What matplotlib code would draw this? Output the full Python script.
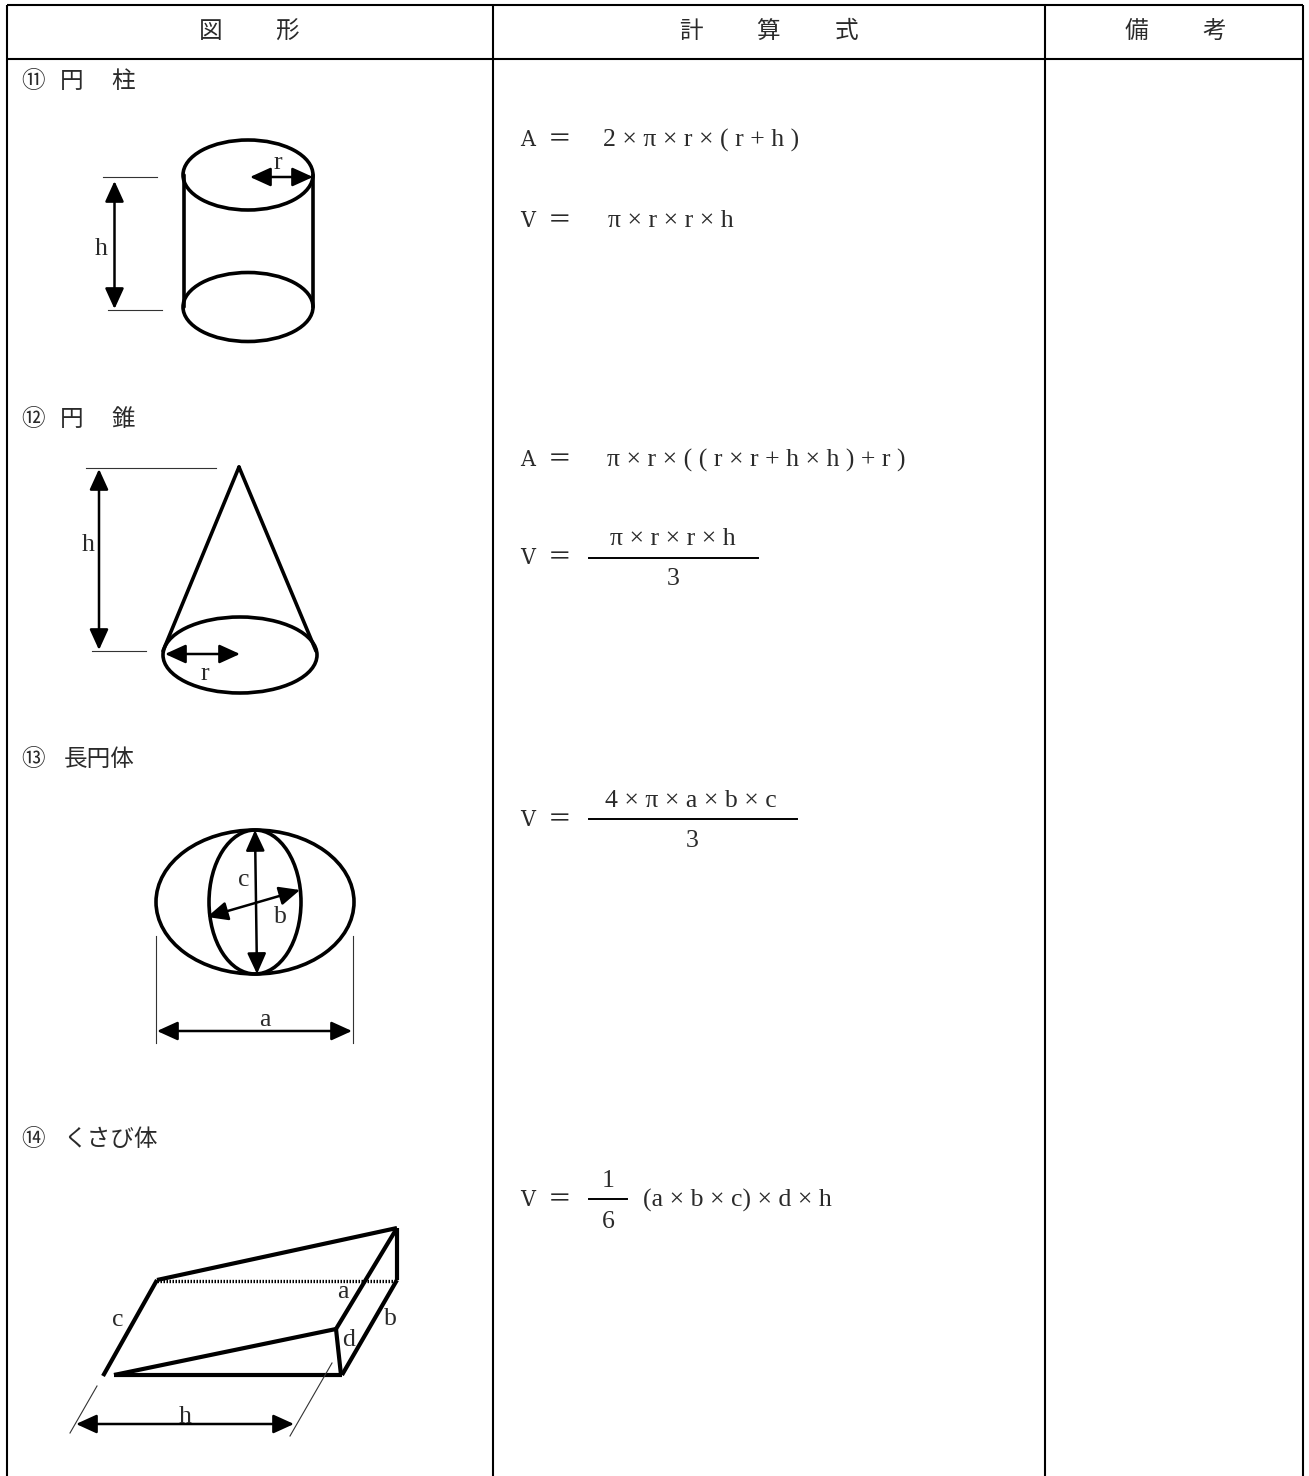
import matplotlib
matplotlib.use("Agg")
import matplotlib.pyplot as plt
from matplotlib.patches import Ellipse, FancyArrowPatch

W, H = 1309, 1476
JP = ["Noto Sans CJK JP", "DejaVu Sans"]
SERIF = ["Liberation Serif", "Noto Sans CJK JP"]
TEXT_COLOR = "#2a2a2a"

# table grid
col_x = [7, 493, 1045, 1303]
top_y = 5
header_y = 59

header_texts = [("図", 211), ("形", 287), ("計", 691), ("算", 768), ("式", 846),
                ("備", 1136), ("考", 1214)]
section_texts = [("⑪", 33, 81), ("円", 72, 81), ("柱", 123, 81),
                 ("⑫", 33, 420), ("円", 72, 420), ("錐", 123, 420),
                 ("⑬", 33, 760), ("長円体", 99, 760),
                 ("⑭", 33, 1140), ("くさび体", 111, 1140)]

# formulas: left symbol, y, expression, x
formula_lhs = [("A", 140), ("V", 221), ("A", 460), ("V", 558), ("V", 820), ("V", 1200)]
formula_exprs = [("2 × π × r × ( r + h )", 603, 140), ("π × r × r × h", 608, 221),
                 ("π × r × ( ( r × r + h × h ) + r )", 607, 460), ("π × r × r × h", 610, 539),
                 ("3", 667, 579), ("4 × π × a × b × c", 605, 801), ("3", 686, 841),
                 ("1", 602, 1181), ("6", 602, 1222), ("(a × b × c) × d × h", 643, 1200)]
fraction_bars = [(589, 758, 558), (589, 797, 819), (589, 627, 1199)]

# shapes
ellipses = [(248, 175, 130, 70), (248, 307, 130, 69),
            (240, 655, 154, 76),
            (255, 902, 198, 144), (255, 902, 92, 144)]
body_lines = [((184, 175), (184, 307)), ((313, 175), (313, 307)),
              ((239, 467), (163, 651)), ((239, 467), (316, 651))]
wedge_lines = [((157, 1280), (397, 1228)), ((157, 1280), (103, 1376)),
               ((114, 1375), (342, 1375)), ((114, 1375), (336, 1329)),
               ((336, 1329), (341, 1375)), ((397, 1228), (336, 1329)),
               ((397, 1280), (342, 1375)), ((397, 1228), (397, 1280))]
thin_lines = [((103, 177), (157, 177)), ((108, 310), (162, 310)),
              ((86, 468), (216, 468)), ((92, 651), (146, 651)),
              ((156, 936), (156, 1043)), ((353, 936), (353, 1043)),
              ((97, 1386), (70, 1433)), ((332, 1363), (290, 1436))]
dotted_lines = [((157, 1281), (397, 1281))]
arrows = [((114.5, 181), (114.5, 309)), ((250, 177), (313, 177)),
          ((99, 469), (99, 650)), ((165, 654), (240, 654)),
          ((255, 830), (257, 974)), ((207, 917), (300, 890)),
          ((157, 1031), (352, 1031)), ((76, 1424), (294, 1424))]
shape_labels = [("r", 278, 163), ("h", 101, 249), ("h", 88, 545), ("r", 205, 674),
                ("c", 244, 880), ("b", 280, 917), ("a", 265, 1020),
                ("c", 118, 1320), ("a", 343, 1292), ("b", 390, 1319),
                ("d", 349, 1340), ("h", 185, 1417)]

fig = plt.figure(figsize=(W / 100, H / 100), dpi=100)
ax = fig.add_axes([0, 0, 1, 1])
ax.set_xlim(0, W)
ax.set_ylim(H, 0)
ax.axis("off")

# table
for x in col_x:
    ax.plot([x, x], [top_y, H], color="black", lw=1.5, solid_capstyle="butt")
for y in [top_y, header_y]:
    ax.plot([col_x[0], col_x[-1]], [y, y], color="black", lw=1.5, solid_capstyle="butt")

for s, x in header_texts:
    ax.text(x, 32, s, family=JP, fontsize=17, ha="center", va="center", color=TEXT_COLOR)
for s, x, y in section_texts:
    ax.text(x, y, s, family=JP, fontsize=17, ha="center", va="center", color=TEXT_COLOR)

# formula column
for s, y in formula_lhs:
    ax.text(528, y, s, family="DejaVu Serif", stretch="condensed", fontsize=16.5,
            ha="center", va="center", color=TEXT_COLOR)
    ax.text(560, y, "＝", family=JP, fontsize=17, ha="center", va="center", color=TEXT_COLOR)
for s, x, y in formula_exprs:
    ax.text(x, y, s, family=SERIF, fontsize=18.5, ha="left", va="center", color=TEXT_COLOR)
for x0, x1, y in fraction_bars:
    ax.plot([x0, x1], [y, y], color="black", lw=1.4)

# figures
for cx, cy, w, h in ellipses:
    ax.add_patch(Ellipse((cx, cy), w, h, fill=False, ec="black", lw=2.6))
for a, b in body_lines:
    ax.plot([a[0], b[0]], [a[1], b[1]], color="black", lw=2.6, solid_capstyle="round")
for a, b in wedge_lines:
    ax.plot([a[0], b[0]], [a[1], b[1]], color="black", lw=3, solid_capstyle="butt")
for a, b in thin_lines:
    ax.plot([a[0], b[0]], [a[1], b[1]], color="#333333", lw=0.8)
for a, b in dotted_lines:
    ax.plot([a[0], b[0]], [a[1], b[1]], color="black", lw=2.4, ls=(0, (0.45, 0.45)))
for a, b in arrows:
    ax.add_patch(FancyArrowPatch(a, b, arrowstyle="<|-|>,head_length=1.1,head_width=0.5",
                                 mutation_scale=11.5, lw=1.8, color="black",
                                 shrinkA=0, shrinkB=0))
for s, x, y in shape_labels:
    ax.text(x, y, s, family=SERIF, fontsize=18.5, ha="center", va="center", color=TEXT_COLOR)

fig.savefig("out.png", dpi=100)
